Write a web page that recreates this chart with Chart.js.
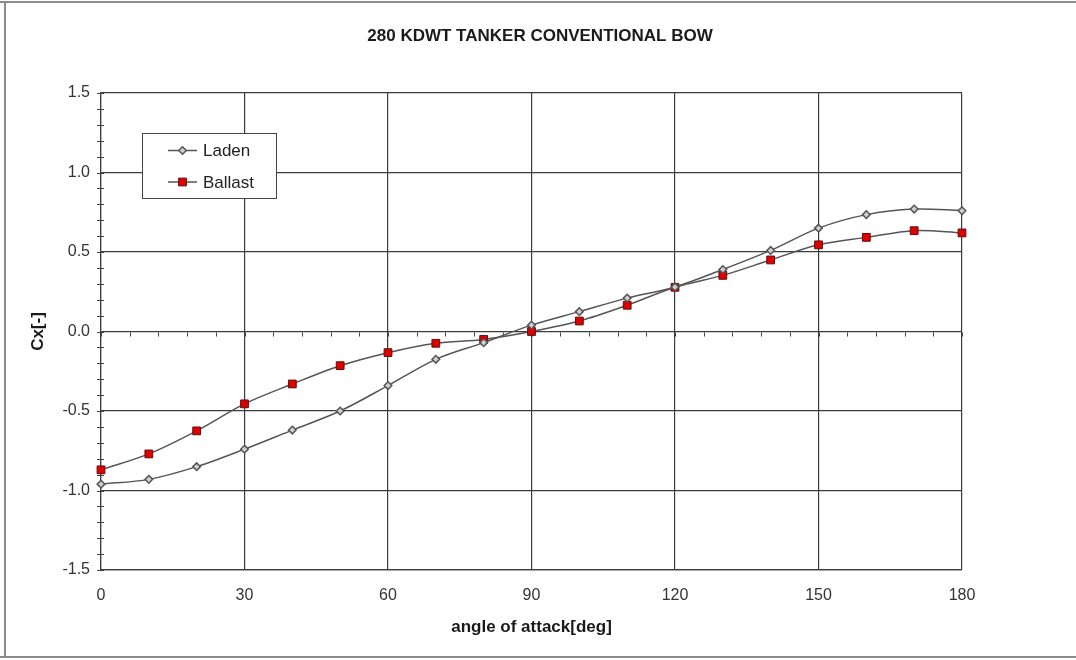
<!DOCTYPE html>
<html>
<head>
<meta charset="utf-8">
<script src="https://cdn.jsdelivr.net/npm/chart.js@4.4.1/dist/chart.umd.min.js"></script>
<style>
  html, body { margin: 0; padding: 0; background: #fff; }
  #wrap { position: relative; width: 1076px; height: 660px; }
</style>
</head>
<body>
<div id="wrap"><canvas id="c" width="1076" height="660"></canvas></div>
<script>
// Angle of attack [deg]
const angles = [0, 10, 20, 30, 40, 50, 60, 70, 80, 90, 100, 110, 120, 130, 140, 150, 160, 170, 180];
// Longitudinal coefficient Cx for each loading condition
const laden   = [-0.96, -0.93, -0.85, -0.74, -0.62, -0.50, -0.34, -0.175, -0.07, 0.04, 0.125, 0.21, 0.28, 0.39, 0.51, 0.65, 0.735, 0.77, 0.76];
const ballast = [-0.87, -0.77, -0.625, -0.455, -0.33, -0.215, -0.133, -0.074, -0.05, 0.0, 0.066, 0.165, 0.278, 0.353, 0.45, 0.545, 0.592, 0.634, 0.62];
// Axis ticks
const xTicks = [0, 30, 60, 90, 120, 150, 180];
const yTicks = [-1.5, -1.0, -0.5, 0.0, 0.5, 1.0, 1.5];

const titleText = '280 KDWT TANKER CONVENTIONAL BOW';
const FONT = "'Liberation Sans', Arial, Helvetica, sans-serif";

const toXY = (vals) => angles.map((a, i) => ({ x: a, y: vals[i] }));

// Frame, title, minor ticks and the inset legend
const decorations = {
  id: 'decorations',
  beforeDatasetsDraw(chart) {
    const { ctx, scales: { x, y } } = chart;
    ctx.save();
    ctx.strokeStyle = '#444';
    ctx.lineWidth = 1;
    // minor ticks on the value axis (every 0.1)
    for (let i = -15; i <= 15; i++) {
      const py = Math.round(y.getPixelForValue(i / 10)) + 0.5;
      const px = Math.round(x.getPixelForValue(0));
      ctx.beginPath();
      ctx.moveTo(px - 4, py);
      ctx.lineTo(px + 3, py);
      ctx.stroke();
    }
    // minor ticks along the zero line (every 6 deg)
    const y0 = Math.round(y.getPixelForValue(0)) + 0.5;
    for (let a = 0; a <= 180; a += 6) {
      const px = Math.round(x.getPixelForValue(a)) + 0.5;
      ctx.beginPath();
      ctx.moveTo(px, y0);
      ctx.lineTo(px, y0 + 4);
      ctx.stroke();
    }
    ctx.restore();
  },
  afterDraw(chart) {
    const { ctx } = chart;
    ctx.save();
    // outer frame
    ctx.strokeStyle = '#8c8c8c';
    ctx.lineWidth = 2;
    ctx.beginPath();
    ctx.moveTo(0, 2); ctx.lineTo(1076, 2);
    ctx.moveTo(5, 2); ctx.lineTo(5, 657);
    ctx.moveTo(0, 657); ctx.lineTo(1076, 657);
    ctx.stroke();

    // title
    ctx.fillStyle = '#1a1a1a';
    ctx.font = 'bold 17px ' + FONT;
    ctx.textAlign = 'center';
    ctx.textBaseline = 'middle';
    ctx.fillText(titleText, 540, 36);

    // legend box
    const bx = 142.5, by = 133.5, bw = 134, bh = 65;
    ctx.fillStyle = '#fff';
    ctx.fillRect(bx, by, bw, bh);
    ctx.strokeStyle = '#444';
    ctx.lineWidth = 1;
    ctx.strokeRect(bx, by, bw, bh);
    const rows = [150.5, 182];
    chart.data.datasets.forEach((ds, i) => {
      const ry = rows[i];
      ctx.strokeStyle = ds.borderColor;
      ctx.lineWidth = ds.borderWidth;
      ctx.beginPath();
      ctx.moveTo(168, ry); ctx.lineTo(197, ry);
      ctx.stroke();
      ctx.fillStyle = ds.pointBackgroundColor;
      ctx.strokeStyle = ds.pointBorderColor;
      ctx.lineWidth = ds.pointBorderWidth;
      Chart.helpers.drawPoint(ctx, { pointStyle: ds.pointStyle, radius: ds.pointRadius, rotation: 0, borderWidth: ds.pointBorderWidth }, 182.5, ry);
      ctx.fillStyle = '#222';
      ctx.font = '17px ' + FONT;
      ctx.textAlign = 'left';
      ctx.textBaseline = 'middle';
      ctx.fillText(ds.label, 203, ry + 1);
    });
    ctx.restore();
  }
};

new Chart(document.getElementById('c'), {
  type: 'line',
  data: {
    datasets: [
      {
        label: 'Laden',
        data: toXY(laden),
        borderColor: '#555',
        borderWidth: 1.5,
        tension: 0.33,
        clip: false,
        pointStyle: 'rectRot',
        pointRadius: 3.8,
        pointBackgroundColor: '#d0d0d0',
        pointBorderColor: '#555',
        pointBorderWidth: 1.5
      },
      {
        label: 'Ballast',
        data: toXY(ballast),
        borderColor: '#555',
        borderWidth: 1.5,
        tension: 0.33,
        clip: false,
        pointStyle: 'rect',
        pointRadius: 5.5,
        pointBackgroundColor: '#e00000',
        pointBorderColor: '#5a1010',
        pointBorderWidth: 1
      }
    ]
  },
  options: {
    responsive: false,
    animation: false,
    devicePixelRatio: 1,
    layout: { padding: { left: 0, right: 114, top: 93, bottom: 0 } },
    plugins: {
      legend: { display: false },
      title: { display: false },
      tooltip: { enabled: false }
    },
    scales: {
      x: {
        type: 'linear',
        min: 0,
        max: 180,
        afterBuildTicks: (s) => { s.ticks = xTicks.map(v => ({ value: v })); },
        afterFit: (s) => { s.height = 90; },
        grid: { color: '#3c3c3c', lineWidth: 1.2, drawTicks: false },
        border: { display: true, color: '#3c3c3c', width: 1.2 },
        ticks: { font: { family: FONT, size: 16 }, color: '#333', padding: 16, maxRotation: 0 },
        title: {
          display: true,
          text: 'angle of attack[deg]',
          font: { family: FONT, size: 17, weight: 'bold' },
          color: '#1a1a1a',
          padding: { top: 0, bottom: 22 }
        }
      },
      y: {
        type: 'linear',
        min: -1.5,
        max: 1.5,
        afterBuildTicks: (s) => { s.ticks = yTicks.map(v => ({ value: v })); },
        afterFit: (s) => { s.width = 101; },
        grid: { color: '#3c3c3c', lineWidth: 1.2, drawTicks: false },
        border: { display: true, color: '#3c3c3c', width: 1.2 },
        ticks: { font: { family: FONT, size: 16 }, color: '#333', padding: 11, callback: (v) => Number(v).toFixed(1) },
        title: {
          display: true,
          text: 'Cx[-]',
          font: { family: FONT, size: 17, weight: 'bold' },
          color: '#1a1a1a',
          padding: { top: 28, bottom: 0 }
        }
      }
    }
  },
  plugins: [decorations]
});
</script>
</body>
</html>
